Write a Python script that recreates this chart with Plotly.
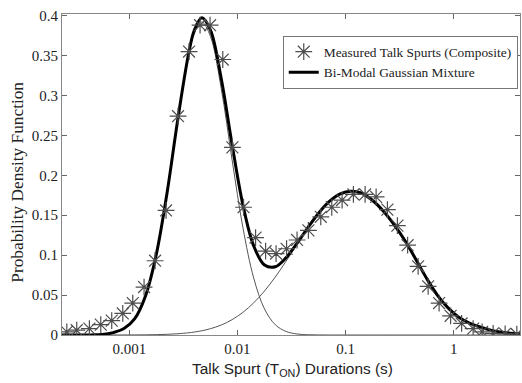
import plotly.graph_objects as go

# ---------------- data ----------------
# measured talk spurt durations (s) and PDF values
spurt_dur = [0.000264, 0.000326, 0.000427, 0.000544, 0.000687, 0.000869, 0.001075,
             0.001368, 0.001729, 0.002185, 0.00282, 0.003566, 0.004508, 0.005578,
             0.00731, 0.00897, 0.01138, 0.0147, 0.0182, 0.02275, 0.02845, 0.03557,
             0.04528, 0.05896, 0.07451, 0.09281, 0.1181, 0.1515, 0.1915, 0.2436,
             0.3013, 0.3746, 0.4685, 0.5798, 0.7325, 0.9361, 1.183, 1.512, 1.831,
             2.315, 2.989, 3.834]
spurt_pdf = [0.004, 0.006, 0.008, 0.013, 0.018, 0.027, 0.040, 0.060, 0.093, 0.156,
             0.274, 0.355, 0.388, 0.388, 0.345, 0.235, 0.160, 0.122, 0.105, 0.102,
             0.108, 0.119, 0.131, 0.148, 0.160, 0.169, 0.176, 0.176, 0.173, 0.157,
             0.137, 0.1125, 0.086, 0.061, 0.040, 0.024, 0.0145, 0.008, 0.004, 0.002,
             0.0015, 0.001]

# sample positions of the fitted curves, as log10 of duration (s)
curve_log10 = [-3.65, -3.55, -3.45, -3.35, -3.25, -3.15, -3.05, -2.95, -2.85, -2.75,
               -2.65, -2.55, -2.45, -2.40, -2.33, -2.25, -2.15, -2.05, -1.95, -1.85,
               -1.75, -1.65, -1.55, -1.45, -1.35, -1.25, -1.15, -1.05, -0.95, -0.85,
               -0.75, -0.65, -0.55, -0.45, -0.35, -0.25, -0.15, -0.05, 0.05, 0.15,
               0.25, 0.35, 0.45, 0.55, 0.65]
# short-spurt mode (thin)
comp_short = [0.0, 0.0, 0.00003, 0.00013, 0.0006, 0.0030, 0.0080, 0.0204, 0.0490, 0.1010,
              0.1783, 0.2702, 0.3509, 0.3775, 0.3920, 0.3739, 0.3085, 0.2195, 0.1347, 0.0713,
              0.0326, 0.0128, 0.0044, 0.0013, 0.0003, 0.0001, 0.0, 0.0, 0.0, 0.0,
              0.0, 0.0, 0.0, 0.0, 0.0, 0.0, 0.0, 0.0, 0.0, 0.0,
              0.0, 0.0, 0.0, 0.0, 0.0]
# long-spurt mode (thin)
comp_long = [0.0, 0.0, 0.0, 0.0, 0.00001, 0.00002, 0.00005, 0.00011, 0.00023, 0.00045,
             0.00086, 0.00158, 0.0028, 0.0037, 0.0053, 0.0079, 0.0125, 0.0192, 0.0283, 0.0403,
             0.0551, 0.0727, 0.0925, 0.1134, 0.1339, 0.1524, 0.1672, 0.1767, 0.1800, 0.1775,
             0.1684, 0.1550, 0.1380, 0.1180, 0.0947, 0.0708, 0.0497, 0.0337, 0.0219, 0.0147,
             0.0097, 0.0058, 0.0034, 0.0020, 0.0012]
# bi-modal mixture (thick)
mixture = [0.0, 0.0, 0.00003, 0.00013, 0.0006, 0.0030, 0.0081, 0.0205, 0.0492, 0.1015,
           0.1792, 0.2718, 0.3537, 0.3812, 0.3973, 0.3818, 0.3210, 0.2387, 0.1630, 0.1116,
           0.0877, 0.0855, 0.0969, 0.1147, 0.1342, 0.1525, 0.1672, 0.1767, 0.1800, 0.1775,
           0.1684, 0.1550, 0.1380, 0.1180, 0.0947, 0.0708, 0.0497, 0.0337, 0.0219, 0.0147,
           0.0097, 0.0058, 0.0034, 0.0020, 0.0012]

x_tick_vals = [0.001, 0.01, 0.1, 1]
x_tick_text = ["0.001", "0.01", "0.1", "1"]
y_tick_vals = [0, 0.05, 0.1, 0.15, 0.2, 0.25, 0.3, 0.35, 0.4]
y_tick_text = ["0", "0.05", "0.1", "0.15", "0.2", "0.25", "0.3", "0.35", "0.4"]

curve_x = [10 ** v for v in curve_log10]

SERIF = "Liberation Serif, Times New Roman, serif"
SANS = "Liberation Sans, Arial, sans-serif"

fig = go.Figure()
fig.add_trace(go.Scatter(x=curve_x, y=comp_short, mode="lines", line_shape="spline",
                         line=dict(color="#555555", width=1), showlegend=False, hoverinfo="skip"))
fig.add_trace(go.Scatter(x=curve_x, y=comp_long, mode="lines", line_shape="spline",
                         line=dict(color="#555555", width=1), showlegend=False, hoverinfo="skip"))
fig.add_trace(go.Scatter(x=curve_x, y=mixture, mode="lines", line_shape="spline",
                         line=dict(color="#000000", width=3),
                         name="Bi-Modal Gaussian Mixture", legendrank=2))
fig.add_trace(go.Scatter(x=spurt_dur, y=spurt_pdf, mode="markers",
                         marker=dict(symbol="asterisk-open", size=14, color="#4d4d4d",
                                     line=dict(color="#4d4d4d", width=1.2)),
                         name="Measured Talk Spurts (Composite)", legendrank=1))

axis_common = dict(showline=True, linecolor="#888888", linewidth=1, mirror="ticks",
                   ticks="inside", ticklen=5, tickcolor="#666666", showgrid=False,
                   zeroline=False, tickfont=dict(family=SERIF, size=15, color="#222222"))

fig.update_layout(
    width=522, height=383,
    margin=dict(l=62, r=2, t=14, b=48),
    paper_bgcolor="white", plot_bgcolor="white",
    xaxis=dict(type="log", range=[-3.623, 0.613], tickvals=x_tick_vals,
               ticktext=x_tick_text, **axis_common),
    yaxis=dict(range=[0, 0.402], tickvals=y_tick_vals, ticktext=y_tick_text,
               **axis_common),
    legend=dict(x=0.482, y=0.933, xanchor="left", yanchor="top",
                bgcolor="white", bordercolor="#777777", borderwidth=1,
                font=dict(family=SERIF, size=13.4, color="#222222"),
                tracegroupgap=0, itemwidth=30),
    annotations=[
        dict(text="Talk Spurt (T<sub>ON</sub>) Durations (s)", xref="paper", yref="paper",
             x=0.504, y=-0.109, xanchor="center", yanchor="middle", showarrow=False,
             font=dict(family=SANS, size=15.4, color="#222222")),
        dict(text="Probability Density Function", xref="paper", yref="paper",
             x=-0.098, y=0.475, xanchor="center", yanchor="middle", showarrow=False,
             textangle=-90, font=dict(family=SERIF, size=17.3, color="#222222")),
    ],
)

fig.write_html("out.html")
